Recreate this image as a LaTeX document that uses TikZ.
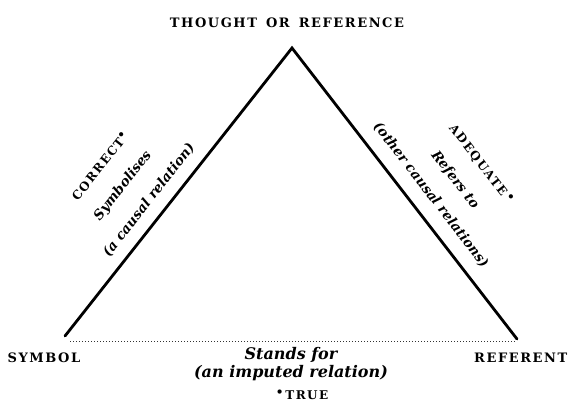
\documentclass[tikz,border=0pt]{standalone}
\usepackage{fontspec}
\usepackage{tikz}
\usetikzlibrary{positioning}
\newfontfamily\capsfont[LetterSpace=12]{DejaVu Serif}
\newfontfamily\slantfont{DejaVu Serif}

\begin{document}
\begin{tikzpicture}[x=1pt, y=-1pt,
    caps/.style={font=\capsfont\bfseries\fontsize{12}{14}\selectfont, inner sep=1pt},
    corner/.style={caps, font=\capsfont\bfseries\fontsize{13}{15}\selectfont},
    rel/.style={font=\slantfont\bfseries\itshape\fontsize{13.5}{15}\selectfont, inner sep=0.5pt},
    base/.style={rel, font=\slantfont\bfseries\itshape\fontsize{16}{18}\selectfont},
    side/.style={line width=2.8pt, line cap=round, line join=miter}]
  \useasboundingbox (0,0) rectangle (568,401);

  % ---- corners of the triangle
  \coordinate (top) at (292,48);
  \coordinate (lft) at (65,336);
  \coordinate (rgt) at (517,339);
  \draw[side] (lft) -- (top) -- (rgt);

  % ---- names at the corners
  \node[corner] (thought) at (287,23) {THOUGHT\hspace{0.7em}OR\hspace{0.7em}REFERENCE};
  \node[corner] (symbol) at (44,358) {SYMBOL};
  \node[corner, anchor=west] (referent) at (473,358) {REFERENT};

  % ---- base: the imputed relation
  \coordinate (dl) at (70,341);
  \coordinate (dr) at (515,341);
  \draw[dotted, line width=1pt, black!80] (dl) -- (dr);
  \node[base] (stands) at (291,355) {Stands for};
  \node[base, below=1pt of stands] (imputed) {(an imputed relation)};
  \node[caps] (true) at (302,395) {\raisebox{0.4ex}{\textbullet}\,TRUE};

  % ---- left side
  \node[rel, rotate=51.8] (causal) at (149,200) {(a causal relation)};
  \node[rel, rotate=51.8] (symbolises) at (123,186) {Symbolises};
  \node[caps, rotate=51.8] (correct) at (100,166) {CORRECT\raisebox{0.5ex}{\textbullet}};

  % ---- right side
  \node[rel, rotate=-52.3] (other) at (431,195) {(other causal relations)};
  \node[rel, rotate=-52.3] (refers) at (455,180) {Refers to};
  \node[caps, rotate=-52.3] (adequate) at (481,164) {ADEQUATE\,\raisebox{0.5ex}{\textbullet}};
\end{tikzpicture}
\end{document}
